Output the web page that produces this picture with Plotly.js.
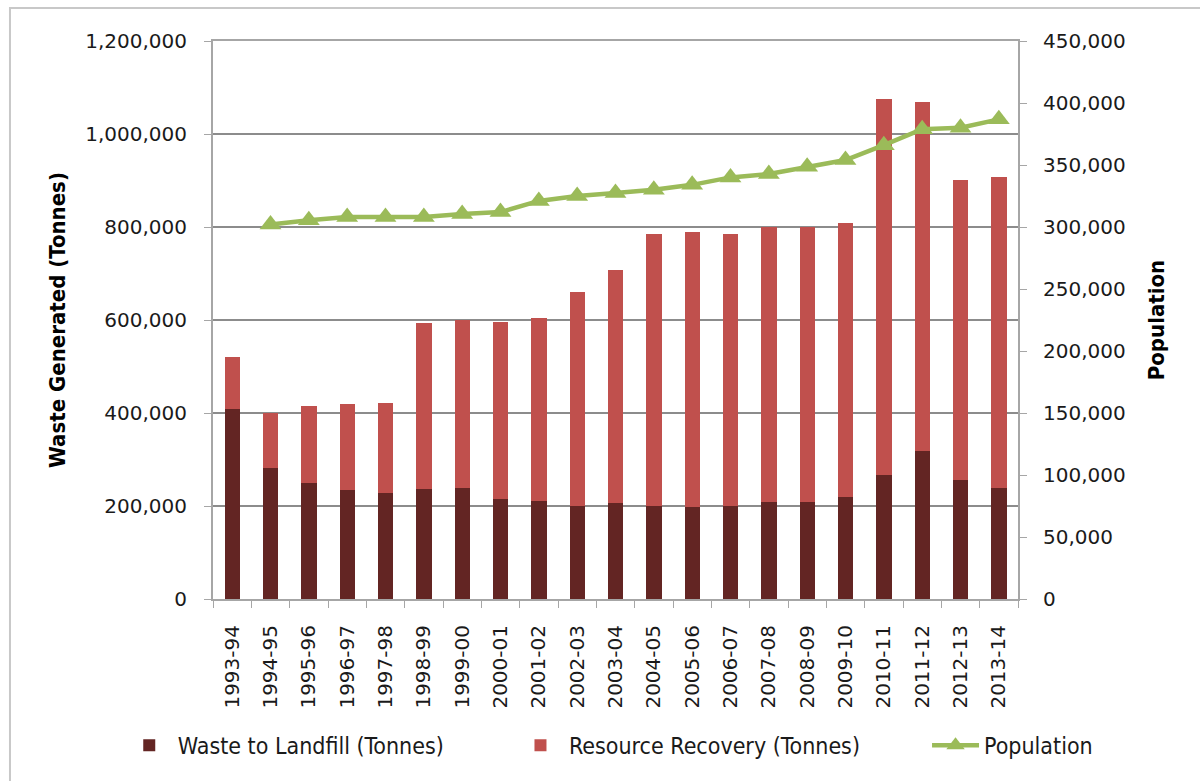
<!DOCTYPE html>
<html>
<head>
<meta charset="utf-8">
<script src="https://cdn.plot.ly/plotly-3.0.1.min.js"></script>
<style>html,body{margin:0;padding:0;background:#fff;}#chart{width:1200px;height:781px;}</style>
</head>
<body>
<div id="chart"></div>
<script>
const years = ["1993-94","1994-95","1995-96","1996-97","1997-98","1998-99","1999-00","2000-01","2001-02","2002-03","2003-04","2004-05","2005-06","2006-07","2007-08","2008-09","2009-10","2010-11","2011-12","2012-13","2013-14"];
const landfill = [408000,281000,250000,234000,229000,237000,238000,214000,211000,199000,207000,200000,198000,200000,208000,208000,220000,267000,318000,255000,238000];
const totalWaste = [520000,399000,416000,420000,421000,593000,600000,595000,604000,660000,707000,784000,789000,786000,799000,799000,809000,1075000,1069000,901000,908000];
const recovery = totalWaste.map((t,i)=>t-landfill[i]);
const population = [null,302000,305500,308000,308000,308000,310500,312000,321000,325000,327500,330000,334000,340000,342700,348600,354000,366000,378800,380000,386800];

const tickFont = {family:"DejaVu Sans", size:20, color:"#1a1a1a"};
const legFont = {family:"DejaVu Sans Condensed", size:23, color:"#1a1a1a"};
const axisGrey = "#a6a6a6";
const traces = [
  {type:"bar", name:"Waste to Landfill (Tonnes)", x:years, y:landfill, marker:{color:"#632523"}, legend:"legend"},
  {type:"bar", name:"Resource Recovery (Tonnes)", x:years, y:recovery, marker:{color:"#C0504D"}, legend:"legend2"},
  {type:"scatter", mode:"lines+markers", name:"Population", x:years, y:population, yaxis:"y2", legend:"legend3",
   line:{color:"#9BBB59", width:4.5}, marker:{symbol:"triangle-up", size:19, color:"#9BBB59"}}
];
function leg(x){ return {orientation:"h", x:x, xanchor:"left", y:-0.262, yanchor:"middle", font:legFont, itemwidth:47, bgcolor:"rgba(0,0,0,0)"}; }
const layout = {
  width:1200, height:781,
  margin:{l:213, r:182, t:41, b:182},
  paper_bgcolor:"#fff", plot_bgcolor:"#fff",
  barmode:"stack", bargap:0.6,
  showlegend:true,
  legend:leg(-0.1146), legend2:leg(0.3714), legend3:leg(0.887),
  xaxis:{type:"category", range:[-0.5,20.5], autorange:false, tickangle:-90, tickfont:tickFont, showline:true, linecolor:axisGrey, linewidth:2,
    mirror:true, ticks:"outside", tickson:"boundaries", ticklen:7, tickcolor:axisGrey, showgrid:false, automargin:false, ticklabelstandoff:16},
  yaxis:{range:[0,1200000], dtick:200000, tickformat:",d", tickfont:tickFont, showline:true, linecolor:axisGrey, linewidth:2,
    ticks:"outside", ticklen:7, tickcolor:axisGrey, showgrid:true, gridcolor:"#8c8c8c", gridwidth:1.5, zeroline:false, ticklabelstandoff:13,
    title:{text:"<b>Waste Generated (Tonnes)</b>", font:{family:"DejaVu Sans Condensed", size:22, color:"#000"}, standoff:14}, automargin:false},
  yaxis2:{range:[0,450000], dtick:50000, tickformat:",d", tickfont:tickFont, overlaying:"y", side:"right", showline:true,
    linecolor:axisGrey, linewidth:2, ticks:"outside", ticklen:7, tickcolor:axisGrey, showgrid:false, zeroline:false, ticklabelstandoff:12,
    title:{text:"<b>Population</b>", font:{family:"DejaVu Sans Condensed", size:22, color:"#000"}, standoff:24}, automargin:false},
  shapes:[{type:"rect", xref:"paper", yref:"paper", x0:-0.2522, x1:1.2385, y0:-0.342, y1:1.059, line:{color:"#c8c8c8", width:2}, fillcolor:"rgba(0,0,0,0)", layer:"below"}]
};
Plotly.newPlot("chart", traces, layout, {displayModeBar:false, staticPlot:true});
</script>
</body>
</html>
